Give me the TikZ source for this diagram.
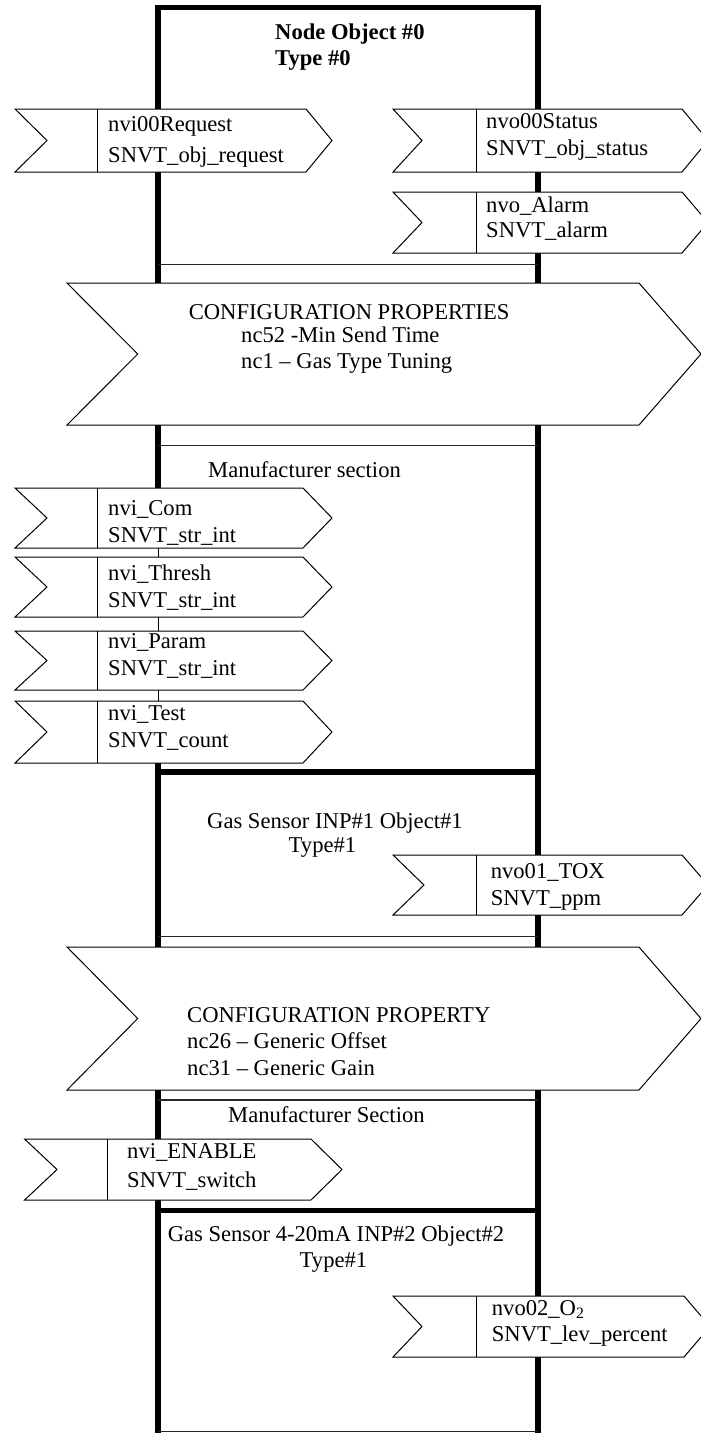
\documentclass[tikz,border=0pt]{standalone}
\usepackage{fontspec}
\setmainfont{Liberation Serif}
\newcommand{\nvport}[7]{%
  \draw[port] (#1,#2) -- (#3,#2) -- ({#3+#6},{(#2+#4)/2}) -- (#3,#4) -- (#1,#4) -- ({#1+#5},{(#2+#4)/2}) -- cycle;
  \draw[divider] (#7,#2) -- (#7,#4);}
\begin{document}
\begin{tikzpicture}[x=1pt,y=-1pt,
  bus/.style={line width=5.5pt, line join=miter},
  sepline/.style={line width=1.3pt, black!85},
  port/.style={draw, line width=1pt, fill=white},
  divider/.style={line width=1pt},
  lbl/.style={anchor=base west, inner sep=0pt, font=\fontsize{22.6}{26}\selectfont},
  title/.style={lbl, font=\fontsize{22.6}{26}\selectfont\bfseries}]
\clip (0,0) rectangle (701,1433);
\fill[white] (0,0) rectangle (701,1433);

\coordinate (ltop) at (158,7.5);
\coordinate (rtop) at (538,7.5);
\coordinate (lmfr) at (158,488);
\coordinate (lgas) at (158,763);
\coordinate (lbot) at (158,1440);
\coordinate (rbot) at (538,1440);
\coordinate (lsep1) at (158,772);
\coordinate (lsep2) at (158,1210.7);

\draw[bus] (lmfr) -- (ltop) -- (rtop) -- (rbot);
\draw[bus] (lgas) -- (lbot);
\draw[divider] (lmfr) -- (lgas);
\draw[bus] (lsep1) -- (lsep1 -| rtop);
\draw[bus] (lsep2) -- (lsep2 -| rtop);
\foreach \y in {264.5, 445.7, 936.7, 1100, 1431.5}
  \draw[sepline] (158,\y) -- (538,\y);

\nvport{15}{109}{306}{172}{32}{26}{97.5}
\nvport{393}{109}{682}{172}{29}{26}{476}
\nvport{393}{192}{682}{253}{29}{26}{476}
\draw[port] (67,283) -- (639,283) -- (701,354) -- (639,425) -- (67,425) -- (137.7,354) -- cycle;
\foreach \t/\b in {488/548, 557/617, 631/690, 701/763}
  {\nvport{15}{\t}{303}{\b}{32}{29}{97}}
\nvport{393}{855}{682}{915}{31}{26}{476}
\draw[port] (67,947) -- (639,947) -- (701,1018.5) -- (639,1090) -- (67,1090) -- (137.7,1018.5) -- cycle;
\nvport{24.6}{1139}{311}{1200}{32.4}{31}{107}
\nvport{393}{1296}{684}{1357}{29}{26}{476}

\node[title] (obj0) at (275,39) {Node Object \#0};
\node[title] (type0) at (275,65) {Type \#0};
\node[lbl] (reqname) at (108,131) {nvi00Request};
\node[lbl] (reqtype) at (108,162) {SNVT\_obj\_request};
\node[lbl] (statname) at (486,128) {nvo00Status};
\node[lbl] (stattype) at (486,155) {SNVT\_obj\_status};
\node[lbl] (alarmname) at (486,212) {nvo\_Alarm};
\node[lbl] (alarmtype) at (486,237) {SNVT\_alarm};
\node[lbl] (cp1) at (188.6,319) {CONFIGURATION PROPERTIES};
\node[lbl] (cp1a) at (241,342) {nc52 -Min Send Time};
\node[lbl] (cp1b) at (241,368) {nc1 -- Gas Type Tuning};
\node[lbl] (mfr1) at (208,477) {Manufacturer section};
\foreach \n/\ty/\y in {Com/str\_int/515, Thresh/str\_int/580, Param/str\_int/648, Test/count/720}
  {\node[lbl] (nvi\n) at (108,\y) {nvi\_\n};
   \node[lbl] (snvt\n) at (108,\y+27) {SNVT\_\ty};}
\node[lbl] (gas1) at (207,828) {Gas Sensor INP\#1 Object\#1};
\node[lbl] (gas1type) at (288.5,852) {Type\#1};
\node[lbl] (toxname) at (490.6,878) {nvo01\_TOX};
\node[lbl] (toxtype) at (490.6,905) {SNVT\_ppm};
\node[lbl] (cp2) at (187,1022) {CONFIGURATION PROPERTY};
\node[lbl] (cp2a) at (187,1048) {nc26 -- Generic Offset};
\node[lbl] (cp2b) at (187,1075) {nc31 -- Generic Gain};
\node[lbl] (mfr2) at (228,1122) {Manufacturer Section};
\node[lbl] (enname) at (127,1158) {nvi\_ENABLE};
\node[lbl] (entype) at (127,1187) {SNVT\_switch};
\node[lbl] (gas2) at (167.6,1241) {Gas Sensor 4-20mA INP\#2 Object\#2};
\node[lbl] (gas2type) at (299.5,1267) {Type\#1};
\node[lbl] (o2name) at (491.7,1315) {nvo02\_O\textsubscript{2}};
\node[lbl] (o2type) at (491.7,1341) {SNVT\_lev\_percent};
\end{tikzpicture}
\end{document}
